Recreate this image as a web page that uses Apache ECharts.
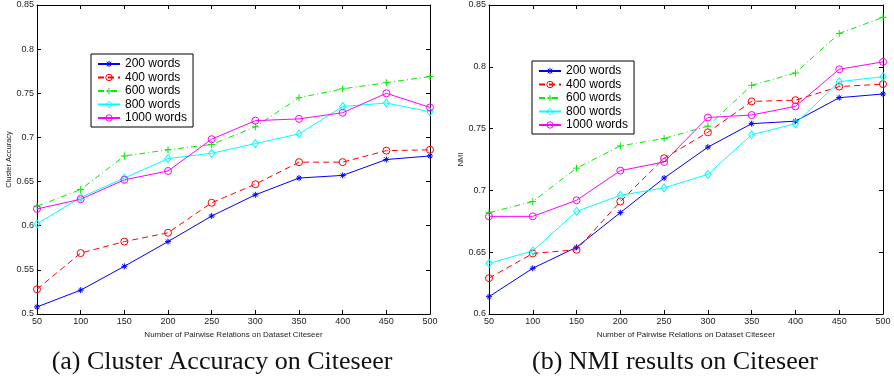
<!DOCTYPE html>
<html>
<head>
<meta charset="utf-8">
<script src="https://cdn.jsdelivr.net/npm/echarts@6/dist/echarts.min.js"></script>
<style>
  html, body { margin: 0; padding: 0; background: #fff; }
  #chart { width: 894px; height: 377px; }
</style>
</head>
<body>
<div id="chart"></div>
<script>
// pairwise relation counts (x axis)
const pairCounts = [50, 100, 150, 200, 250, 300, 350, 400, 450, 500];
const seriesNames = ['200 words', '400 words', '600 words', '800 words', '1000 words'];

// (a) cluster accuracy
const acc200 = [0.508, 0.527, 0.554, 0.582, 0.611, 0.635, 0.654, 0.657, 0.675, 0.679];
const acc400 = [0.528, 0.569, 0.582, 0.592, 0.626, 0.647, 0.672, 0.672, 0.685, 0.686];
const acc600 = [0.622, 0.641, 0.679, 0.686, 0.692, 0.712, 0.745, 0.755, 0.762, 0.769];
const acc800 = [0.602, 0.632, 0.654, 0.676, 0.682, 0.693, 0.704, 0.735, 0.739, 0.729];
const acc1000 = [0.619, 0.630, 0.652, 0.662, 0.698, 0.719, 0.721, 0.728, 0.750, 0.734];

// (b) NMI
const nmi200 = [0.614, 0.637, 0.654, 0.682, 0.710, 0.735, 0.754, 0.756, 0.775, 0.778];
const nmi400 = [0.629, 0.649, 0.652, 0.691, 0.726, 0.747, 0.772, 0.773, 0.784, 0.786];
const nmi600 = [0.682, 0.691, 0.718, 0.736, 0.742, 0.752, 0.785, 0.795, 0.827, 0.840];
const nmi800 = [0.641, 0.651, 0.683, 0.696, 0.702, 0.713, 0.745, 0.754, 0.788, 0.792];
const nmi1000 = [0.679, 0.679, 0.692, 0.716, 0.723, 0.759, 0.761, 0.768, 0.798, 0.804];

const chart = echarts.init(document.getElementById('chart'));

const FONT = 'Liberation Sans, Arial, Helvetica, sans-serif';
const SERIF = 'Liberation Serif, DejaVu Serif, serif';
const colors = ['#0000ff', '#ff0000', '#00ee00', '#00ffff', '#ff00ff'];
const lineTypes = ['solid', [6, 4], [6, 3, 1, 3], 'solid', 'solid'];
const symbols = [
  'path://M5,0L5,10M0,5L10,5M1.5,1.5L8.5,8.5M8.5,1.5L1.5,8.5',
  'circle',
  'path://M5,0L5,10M0,5L10,5',
  'diamond',
  'circle'
];
const symbolSizes = [6, 7, 7, [6, 8], 7];

function pairs(vals) {
  return pairCounts.map((x, i) => [x, vals[i]]);
}

function makeSeries(data, gridIdx) {
  return data.map((vals, k) => ({
    name: seriesNames[k],
    type: 'line',
    xAxisIndex: gridIdx * 2,
    yAxisIndex: gridIdx * 2,
    data: pairs(vals),
    symbol: symbols[k],
    symbolSize: symbolSizes[k],
    showAllSymbol: true,
    lineStyle: { color: colors[k], width: 1, type: lineTypes[k] },
    itemStyle: { color: 'rgba(0,0,0,0)', borderColor: colors[k], borderWidth: 1 },
    emphasis: { disabled: true },
    animation: false
  }));
}

function xAxes(gridIdx, name) {
  return [
    {
      gridIndex: gridIdx, type: 'value', min: 50, max: 500, interval: 50,
      name: name, nameLocation: 'middle', nameGap: 14,
      nameTextStyle: { fontFamily: FONT, fontSize: 8, color: '#222' },
      axisLine: { show: true, onZero: false, lineStyle: { color: '#000', width: 1 } },
      axisTick: { show: true, inside: true, length: 4, lineStyle: { color: '#000' } },
      axisLabel: { fontFamily: FONT, fontSize: 9, color: '#222', margin: 3 },
      splitLine: { show: false }
    },
    {
      gridIndex: gridIdx, type: 'value', position: 'top', min: 50, max: 500, interval: 50,
      axisLine: { show: true, onZero: false, lineStyle: { color: '#000', width: 1 } },
      axisTick: { show: true, inside: true, length: 4, lineStyle: { color: '#000' } },
      axisLabel: { show: false },
      splitLine: { show: false }
    }
  ];
}

function yAxes(gridIdx, name, min) {
  return [
    {
      gridIndex: gridIdx, type: 'value', min: min, max: 0.85, interval: 0.05,
      name: name, nameLocation: 'middle', nameGap: 24, nameRotate: 90,
      nameTextStyle: { fontFamily: FONT, fontSize: 7.5, color: '#222' },
      axisLine: { show: true, onZero: false, lineStyle: { color: '#000', width: 1 } },
      axisTick: { show: true, inside: true, length: 4, lineStyle: { color: '#000' } },
      axisLabel: { fontFamily: FONT, fontSize: 9, color: '#222', margin: 3 },
      splitLine: { show: false }
    },
    {
      gridIndex: gridIdx, type: 'value', position: 'right', min: min, max: 0.85, interval: 0.05,
      axisLine: { show: true, onZero: false, lineStyle: { color: '#000', width: 1 } },
      axisTick: { show: true, inside: true, length: 4, lineStyle: { color: '#000' } },
      axisLabel: { show: false },
      splitLine: { show: false }
    }
  ];
}

function legendAt(left, top) {
  return {
    orient: 'vertical', left: left, top: top,
    data: seriesNames.map((n, k) => ({
      name: n,
      itemStyle: { color: 'rgba(0,0,0,0)', borderColor: colors[k], borderWidth: 1 }
    })),
    itemWidth: 22, itemHeight: 8, itemGap: 1.5,
    padding: [4, 6, 3, 6],
    backgroundColor: '#fff', borderColor: '#000', borderWidth: 1, borderRadius: 0,
    textStyle: { fontFamily: FONT, fontSize: 12, color: '#000' },
    selectedMode: false
  };
}

const option = {
  animation: false,
  backgroundColor: '#fff',
  grid: [
    { left: 37, right: 464, top: 5, bottom: 63, show: false },
    { left: 489, right: 11, top: 5, bottom: 63, show: false }
  ],
  title: [
    {
      text: '(a) Cluster Accuracy on Citeseer', left: 217, top: 344, textAlign: 'center',
      textStyle: { fontFamily: SERIF, fontSize: 26, fontWeight: 'normal', color: '#111' }
    },
    {
      text: '(b) NMI results on Citeseer', left: 670, top: 344, textAlign: 'center',
      textStyle: { fontFamily: SERIF, fontSize: 26, fontWeight: 'normal', color: '#111' }
    }
  ],
  legend: [legendAt(91, 54), legendAt(532, 61)],
  xAxis: [
    ...xAxes(0, 'Number of Pairwise Relations on Dataset Citeseer'),
    ...xAxes(1, 'Number of Pairwise Relations on Dataset Citeseer')
  ],
  yAxis: [
    ...yAxes(0, 'Cluster Accuracy', 0.5),
    ...yAxes(1, 'NMI', 0.6)
  ],
  series: [
    ...makeSeries([acc200, acc400, acc600, acc800, acc1000], 0),
    ...makeSeries([nmi200, nmi400, nmi600, nmi800, nmi1000], 1)
  ]
};

chart.setOption(option);
</script>
</body>
</html>
